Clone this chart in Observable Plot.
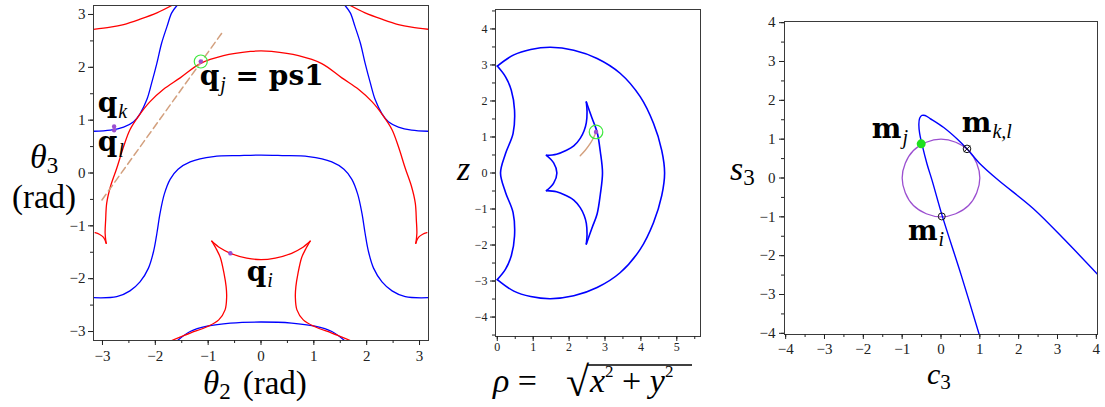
<!DOCTYPE html>
<html><head><meta charset="utf-8">
<script src="https://cdn.jsdelivr.net/npm/d3@7"></script>
<script src="https://cdn.jsdelivr.net/npm/@observablehq/plot@0.6"></script>
<style>
html,body{margin:0;padding:0;background:#fff;}
#wrap{position:relative;width:1105px;height:407px;overflow:hidden;background:#fff;}
#wrap svg{position:absolute;top:0;}
</style></head><body><div id="wrap"></div>
<script>
// ---------------- Panel 1 : theta2 (x) vs theta3 (y), radians ----------------
const p1Ticks = [-3,-2,-1,0,1,2,3];
const p1Minor = [-3,-2.5,-2,-1.5,-1,-0.5,0,0.5,1,1.5,2,2.5,3];
const redTopLeft = [[-3.17,2.72],[-2.85,2.76],[-2.60,2.81],[-2.29,2.91],[-1.97,3.03],[-1.69,3.17]];
const redTopRight = [[1.69,3.17],[1.97,3.03],[2.29,2.91],[2.60,2.81],[2.85,2.76],[3.17,2.72]];
const blueTopLeft = [[-3.17,0.79],[-2.85,0.81],[-2.60,0.87],[-2.41,0.97],[-2.29,1.12],[-2.16,1.39],[-2.07,1.70],[-1.97,2.08],[-1.88,2.46],[-1.78,2.77],[-1.69,3.03],[-1.59,3.17]];
const blueTopRight = [[1.59,3.17],[1.69,3.03],[1.78,2.77],[1.88,2.46],[1.97,2.08],[2.07,1.70],[2.16,1.39],[2.29,1.12],[2.41,0.97],[2.60,0.87],[2.85,0.81],[3.17,0.79]];
const redHookLeft = [[-3.14,-1.13],[-3.06,-1.16],[-2.98,-1.22],[-2.93,-1.33]];
const redArc = [[-2.93,-1.33],[-2.95,-1.14],[-2.94,-0.89],[-2.92,-0.57],[-2.85,-0.26],[-2.73,0.09],[-2.60,0.50],[-2.48,0.82],[-2.30,1.10],[-2.10,1.35],[-1.85,1.58],[-1.53,1.80],[-1.15,2.07],[-0.71,2.22],[-0.20,2.30],[0,2.31],[0.20,2.30],[0.71,2.22],[1.15,2.07],[1.53,1.80],[1.85,1.58],[2.10,1.35],[2.30,1.10],[2.48,0.82],[2.60,0.50],[2.73,0.09],[2.85,-0.26],[2.92,-0.57],[2.94,-0.89],[2.95,-1.14],[2.93,-1.33]];
const redHookRight = [[2.93,-1.33],[2.98,-1.22],[3.06,-1.16],[3.14,-1.13]];
const blueMesa = [[-3.17,-2.36],[-2.73,-2.34],[-2.48,-2.23],[-2.29,-2.06],[-2.13,-1.80],[-2.03,-1.47],[-1.97,-1.14],[-1.91,-0.76],[-1.83,-0.40],[-1.72,-0.12],[-1.57,0.07],[-1.34,0.21],[-0.90,0.31],[-0.40,0.33],[0,0.34],[0.40,0.33],[0.90,0.31],[1.34,0.21],[1.57,0.07],[1.72,-0.12],[1.83,-0.40],[1.91,-0.76],[1.97,-1.14],[2.03,-1.47],[2.13,-1.80],[2.29,-2.06],[2.48,-2.23],[2.73,-2.34],[3.17,-2.36]];
const redStarTop = [[-0.93,-1.29],[-0.77,-1.42],[-0.58,-1.52],[-0.27,-1.61],[0,-1.64],[0.27,-1.61],[0.58,-1.52],[0.77,-1.42],[0.93,-1.29]];
const redStarLeft = [[-0.93,-1.29],[-0.84,-1.45],[-0.77,-1.60],[-0.70,-1.90],[-0.66,-2.15],[-0.65,-2.34],[-0.68,-2.59],[-0.80,-2.78],[-1.02,-2.91],[-1.34,-3.03],[-1.69,-3.17]];
const redStarRight = [[0.93,-1.29],[0.84,-1.45],[0.77,-1.60],[0.70,-1.90],[0.66,-2.15],[0.65,-2.34],[0.68,-2.59],[0.80,-2.78],[1.02,-2.91],[1.34,-3.03],[1.69,-3.17]];
const blueBottom = [[-1.58,-3.17],[-1.34,-3.00],[-1.02,-2.90],[-0.58,-2.84],[0,-2.82],[0.58,-2.84],[1.02,-2.90],[1.34,-3.00],[1.58,-3.17]];
const tanLine = [[-3.01,-0.51],[-0.74,2.65]];
const p1PurpleDots = [[-2.78,0.88],[-2.78,0.81],[-0.58,-1.52],[-1.14,2.11]];
const p1GreenRing = [[-1.14,2.11]];
const p1Labels = [
  {x:-3.08, y:1.14, main:"q", sub:"k", rest:""},
  {x:-3.08, y:0.40, main:"q", sub:"l", rest:""},
  {x:-1.15, y:1.65, main:"q", sub:"j", rest:" = ps1"},
  {x:-0.26, y:-2.06, main:"q", sub:"i", rest:""}
];

// ---------------- Panel 2 : rho (x) vs z (y) ----------------
const p2Ticks = [0,1,2,3,4,5];
const p2Minor = [0,0.5,1,1.5,2,2.5,3,3.5,4,4.5,5,5.5];
const p2YTicks = [-4,-3,-2,-1,0,1,2,3,4];
const p2YMinor = [-4.5,-4,-3.5,-3,-2.5,-2,-1.5,-1,-0.5,0,0.5,1,1.5,2,2.5,3,3.5,4,4.5];
const outerArc = [[0,2.97],[0.46,3.28],[0.93,3.43],[1.48,3.49],[2.13,3.41],[2.78,3.18],[3.42,2.77],[3.98,2.12],[4.35,1.38],[4.58,0.63],[4.66,0],[4.58,-0.63],[4.35,-1.38],[3.98,-2.12],[3.42,-2.77],[2.78,-3.18],[2.13,-3.41],[1.48,-3.49],[0.93,-3.43],[0.46,-3.28],[0,-2.96]];
const innerSide = [[0,-2.96],[0.23,-2.67],[0.39,-2.30],[0.48,-1.75],[0.44,-1.10],[0.23,-0.54],[0.09,0],[0.23,0.54],[0.44,1.10],[0.48,1.75],[0.39,2.30],[0.23,2.67],[0,2.97]];
const starUpper = [[2.48,1.97],[2.50,1.70],[2.48,1.40],[2.42,1.18],[2.31,0.96],[2.13,0.75],[1.90,0.62],[1.65,0.52],[1.37,0.49]];
const starLeftArc = [[1.37,0.49],[1.57,0.28],[1.66,0],[1.57,-0.28],[1.37,-0.49]];
const starLower = [[1.37,-0.49],[1.65,-0.52],[1.90,-0.62],[2.13,-0.75],[2.31,-0.96],[2.42,-1.18],[2.48,-1.40],[2.50,-1.70],[2.48,-1.97]];
const starRight = [[2.48,1.97],[2.64,1.52],[2.78,1.14],[2.87,0.59],[2.93,0],[2.87,-0.59],[2.78,-1.14],[2.64,-1.52],[2.48,-1.97]];
const p2Tan = [[2.31,0.48],[2.45,0.63],[2.59,0.82],[2.68,0.98],[2.75,1.13]];
const p2Point = [[2.75,1.14]];

// ---------------- Panel 3 : c3 (x) vs s3 (y) ----------------
const p3Ticks = [-4,-3,-2,-1,0,1,2,3,4];
const p3Minor = [-4,-3.5,-3,-2.5,-2,-1.5,-1,-0.5,0,0.5,1,1.5,2,2.5,3,3.5,4];
const unitCircle = [[1,0],[0.92,0.38],[0.71,0.71],[0.38,0.92],[0,1],[-0.38,0.92],[-0.71,0.71],[-0.92,0.38],[-1,0],[-0.92,-0.38],[-0.71,-0.71],[-0.38,-0.92],[0,-1],[0.38,-0.92],[0.71,-0.71],[0.92,-0.38]];
const blueCurve = [[0.99,-4.05],[0.52,-2.5],[0.03,-0.97],[-0.23,-0.06],[-0.36,0.36],[-0.49,0.87],[-0.55,1.15],[-0.57,1.38],[-0.55,1.54],[-0.49,1.61],[-0.41,1.61],[-0.28,1.53],[0.07,1.30],[0.41,1.01],[0.67,0.75],[1.01,0.36],[1.48,-0.06],[2.38,-0.79],[3.24,-1.65],[4.05,-2.50]];
const mjPoint = [[-0.51,0.88]];
const mklPoint = [[0.67,0.75]];
const miPoint = [[0.02,-0.99]];
const p3Labels = [
  {x:-1.77, y:1.01, main:"m", sub:"j", rest:""},
  {x:0.55, y:1.18, main:"m", sub:"k,l", rest:""},
  {x:-0.84, y:-1.60, main:"m", sub:"i", rest:""}
];

// ---------------- drawing ----------------
const RED = "#ff0000", BLUE = "#0000ff", PURPLE = "#9b4fd0", TAN = "#d3a07e", GREEN = "#3fe83f";
const SERIF = "Liberation Serif";
const line = (data, stroke, o = {}) => Plot.line(data, {x: d => d[0], y: d => d[1], stroke, strokeWidth: 1.3, curve: "catmull-rom", clip: true, ...o});
const fmt = d => String(d).replace("-", "\u2212");
const wrap = document.getElementById("wrap");

function panel(c) {
  const svg = Plot.plot({
    width: c.width, height: 407,
    marginLeft: c.ml, marginRight: c.mr, marginTop: c.mt, marginBottom: c.mb,
    style: {fontFamily: SERIF, fontSize: c.fs + "px", color: "#222", background: "transparent", overflow: "visible"},
    x: {domain: c.xd}, y: {domain: c.yd},
    marks: [
      ...c.marks,
      Plot.frame({stroke: "#3a3a3a", strokeWidth: 1}),
      Plot.axisX({ticks: c.xMinor, tickSize: 3, tickFormat: () => "", label: null}),
      Plot.axisX({ticks: c.xTicks, tickSize: 5, tickPadding: c.xPad, tickFormat: fmt, label: null, fontSize: c.fs, fontFamily: SERIF}),
      Plot.axisY({ticks: c.yMinor, tickSize: 3, tickFormat: () => "", label: null}),
      Plot.axisY({ticks: c.yTicks, tickSize: 5, tickPadding: c.yPad, tickFormat: fmt, label: null, fontSize: c.fs, fontFamily: SERIF})
    ]
  });
  svg.style.left = c.left + "px";
  wrap.appendChild(svg);
  return svg;
}

function txt(svg, x, y, parts, anchor = "start") {
  const t = d3.select(svg).append("text").attr("x", x).attr("y", y).attr("text-anchor", anchor).attr("fill", "#000");
  let shift = 0;
  for (const p of parts) {
    const dy = (p.dy || 0) - shift; shift = p.dy || 0;
    t.append("tspan").attr("dy", dy).attr("dx", p.dx || 0)
      .style("font-family", p.f || SERIF)
      .style("font-size", p.s + "px").style("font-style", p.i ? "italic" : "normal")
      .style("font-weight", p.b ? "bold" : "normal").text(p.t);
  }
  return t;
}

function mathLabels(svg, labels) {
  const sx = svg.scale("x"), sy = svg.scale("y");
  for (const L of labels) {
    const parts = [{t: L.main, b: true, s: 28, f: "DejaVu Serif"}, {t: L.sub, i: true, s: 20, dy: 6, dx: 1}];
    if (L.rest) parts.push({t: L.rest, b: true, s: 28, f: "DejaVu Serif", dy: 0});
    txt(svg, sx.apply(L.x), sy.apply(L.y), parts);
  }
}

// Panel 1
const svg1 = panel({
  left: 0, width: 440, ml: 93, mr: 12, mt: 5, mb: 67, fs: 15,
  xd: [-3.17, 3.17], yd: [-3.17, 3.17],
  xTicks: p1Ticks, xMinor: p1Minor, yTicks: p1Ticks, yMinor: p1Minor, xPad: 5, yPad: 3,
  marks: [
    line(redTopLeft, RED), line(redTopRight, RED), line(blueTopLeft, BLUE), line(blueTopRight, BLUE),
    line(blueMesa, BLUE), line(blueBottom, BLUE), line(redHookLeft, RED), line(redArc, RED), line(redHookRight, RED),
    line(redStarTop, RED), line(redStarLeft, RED), line(redStarRight, RED),
    line(tanLine, TAN, {strokeWidth: 1.5, strokeDasharray: "7,4", curve: "linear"}),
    Plot.dot(p1PurpleDots, {x: d => d[0], y: d => d[1], r: 2.2, fill: PURPLE, stroke: "none"}),
    Plot.dot(p1GreenRing, {x: d => d[0], y: d => d[1], r: 6.5, stroke: GREEN, strokeWidth: 1.2, fill: "none"})
  ]
});
mathLabels(svg1, p1Labels);
txt(svg1, 30, 168, [{t: "θ", i: true, s: 34}, {t: "3", s: 23, dy: 5}]);
txt(svg1, 44, 208, [{t: "(rad)", s: 33}], "middle");
txt(svg1, 203, 394, [{t: "θ", i: true, s: 33}, {t: "2", s: 23, dy: 5}, {t: "(rad)", s: 33, dy: 0, dx: 12}]);

// Panel 2
const svg2 = panel({
  left: 440, width: 265, ml: 55, mr: 5, mt: 9, mb: 71, fs: 12,
  xd: [-0.05, 5.66], yd: [-4.54, 4.54],
  xTicks: p2Ticks, xMinor: p2Minor, yTicks: p2YTicks, yMinor: p2YMinor, xPad: 1, yPad: 3,
  marks: [
    line(outerArc, BLUE, {strokeWidth: 1.6}), line(innerSide, BLUE, {strokeWidth: 1.6}),
    line(starUpper, BLUE, {strokeWidth: 1.6}), line(starLeftArc, BLUE, {strokeWidth: 1.6}),
    line(starLower, BLUE, {strokeWidth: 1.6}), line(starRight, BLUE, {strokeWidth: 1.6}),
    line(p2Tan, TAN, {strokeWidth: 1.4}),
    Plot.dot(p2Point, {x: d => d[0], y: d => d[1], r: 2.2, fill: PURPLE, stroke: "none"}),
    Plot.dot(p2Point, {x: d => d[0], y: d => d[1], r: 6.8, stroke: GREEN, strokeWidth: 1.2, fill: "none"})
  ]
});
txt(svg2, 17, 180, [{t: "z", i: true, s: 34}]);
txt(svg2, 53, 392, [{t: "ρ", i: true, s: 34}, {t: " =", s: 34}]);
txt(svg2, 126, 396, [{t: "√", s: 42}]);
txt(svg2, 150, 392, [{t: "x", i: true, s: 34}, {t: "2", s: 17, dy: -15}, {t: " + ", s: 34, dy: 0}, {t: "y", i: true, s: 34}, {t: "2", s: 17, dy: -15}]);
d3.select(svg2).append("line").attr("x1", 147).attr("x2", 252).attr("y1", 365).attr("y2", 365).attr("stroke", "#000").attr("stroke-width", 1.5);

// Panel 3
const svg3 = panel({
  left: 705, width: 400, ml: 79, mr: 8, mt: 21, mb: 73, fs: 15,
  xd: [-4.03, 4.03], yd: [-4.03, 4.03],
  xTicks: p3Ticks, xMinor: p3Minor, yTicks: p3Ticks, yMinor: p3Minor, xPad: 4, yPad: 4,
  marks: [
    line(unitCircle, PURPLE, {strokeWidth: 1.3, curve: "catmull-rom-closed"}),
    line(blueCurve, BLUE, {strokeWidth: 1.4}),
    Plot.dot(mjPoint, {x: d => d[0], y: d => d[1], r: 4.5, fill: "#1ee01e", stroke: "none"}),
    Plot.dot(mklPoint, {x: d => d[0], y: d => d[1], r: 3.8, fill: "none", stroke: "#111", strokeWidth: 1}),
    Plot.dot(mklPoint, {x: d => d[0], y: d => d[1], r: 3, symbol: "times", stroke: "#111", strokeWidth: 1}),
    Plot.dot(miPoint, {x: d => d[0], y: d => d[1], r: 3.5, fill: "none", stroke: "#111", strokeWidth: 1})
  ]
});
mathLabels(svg3, p3Labels);
txt(svg3, 25, 180, [{t: "s", i: true, s: 34}, {t: "3", s: 23, dy: 5}]);
txt(svg3, 222, 384, [{t: "c", i: true, s: 30}, {t: "3", s: 21, dy: 5}]);
</script>
</body></html>
